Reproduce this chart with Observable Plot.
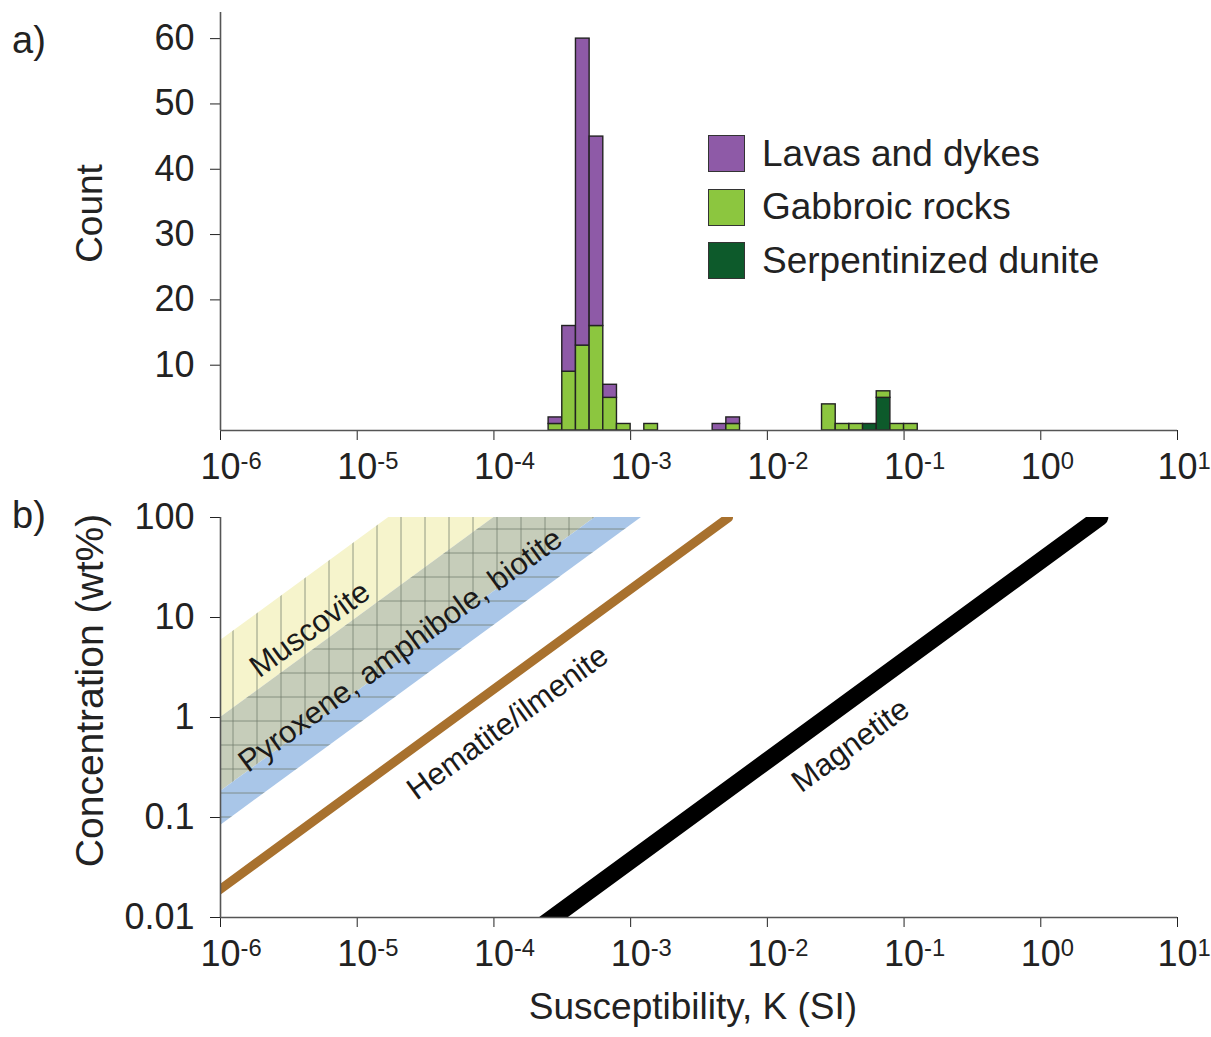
<!DOCTYPE html>
<html><head><meta charset="utf-8">
<script src="https://cdn.jsdelivr.net/npm/d3@7"></script>
<script src="https://cdn.jsdelivr.net/npm/@observablehq/plot@0.6"></script>
<style>
body{margin:0;background:#fff;font-family:"Liberation Sans",Arial,Helvetica,sans-serif;}
#wrap{position:relative;width:1211px;height:1037px;overflow:hidden;}
.panel{position:absolute;left:0;}
.panel svg{overflow:visible;}
.tag{position:absolute;left:12px;font-size:38px;line-height:1;color:#222;}
.legend{position:absolute;left:708px;top:135px;}
.row{display:flex;align-items:center;height:37px;margin-bottom:16.5px;font-size:37px;color:#222;white-space:nowrap;}
.sw{box-sizing:border-box;width:37px;height:37px;border:1.5px solid #333;margin-right:17px;}
</style></head>
<body>
<div id="wrap">
  <div class="panel" id="top" style="top:0"></div>
  <div class="panel" id="bot" style="top:490px"></div>
  <div class="tag" style="top:21px">a)</div>
  <div class="tag" style="top:496px">b)</div>
  <div class="legend" id="legend"></div>
</div>
<script>
// ---------- Panel a) histogram data (bins of 0.1 in log10 K) ----------
const binLo   = [-3.6, -3.5, -3.4, -3.3, -3.2, -3.1, -2.9, -2.4, -2.3, -1.6, -1.5, -1.4, -1.3, -1.2, -1.1, -1.0];
const binWidth = 0.1;
const lavas   = [1, 7, 47, 29, 2, 0, 0, 1, 1, 0, 0, 0, 0, 0, 0, 0];
const gabbro  = [1, 9, 13, 16, 5, 1, 1, 0, 1, 4, 1, 1, 0, 1, 1, 1];
const dunite  = [0, 0, 0, 0, 0, 0, 0, 0, 0, 0, 0, 0, 1, 5, 0, 0];
const groups  = ["Lavas and dykes", "Gabbroic rocks", "Serpentinized dunite"];
const groupColors = ["#8e5aa7", "#8cc63f", "#0d5a2b"];
const stackOrder = ["Serpentinized dunite", "Gabbroic rocks", "Lavas and dykes"];
const countTicks = [10, 20, 30, 40, 50, 60];

// ---------- Panel b) susceptibility vs concentration ----------
const kTicks = [1e-6, 1e-5, 1e-4, 1e-3, 1e-2, 1e-1, 1, 10];
const concTicks = [0.01, 0.1, 1, 10, 100];
const concEnds = [0.001, 100];                 // wt% range of the bands/lines
// bands: K at 100 wt% for left and right edges
const bandNames = ["Muscovite", "Pyroxene, amphibole, biotite", "Blue edge"];
const bandK100lo = [1.7e-5, 1.0e-4, 5.5e-4];
const bandK100hi = [1.0e-4, 5.5e-4, 1.2e-3];
const bandColors = ["#f6f4cc", "#c6cdba", "#a9c6e8"];
// hatched ranges (vertical lines / horizontal lines)
const vHatchK100 = [1.7e-5, 5.5e-4];
const hHatchK100 = [1.0e-4, 1.2e-3];
// single-mineral lines: K at 100 wt%
const lineNames = ["Hematite/ilmenite", "Magnetite"];
const lineK100 = [5.2e-3, 2.7];
const lineColors = ["#a8712e", "#000000"];
const lineWidths = [9, 17];
// annotation anchors (K, wt%)
const annText = ["Muscovite", "Pyroxene, amphibole, biotite", "Hematite/ilmenite", "Magnetite"];
const annK = [4.5e-6, 2.07e-5, 1.26e-4, 0.0406];
const annC = [7.6, 4.7, 0.89, 0.525];

const FONT = '"Liberation Sans", Arial, Helvetica, sans-serif';
const fmtPow = d => "10^" + Math.round(Math.log10(d));

function supify(svg) {
  svg.querySelectorAll("text").forEach(t => {
    const s = t.textContent;
    if (!s.includes("^")) return;
    const [b, e] = s.split("^");
    t.textContent = b;
    const ts = document.createElementNS("http://www.w3.org/2000/svg", "tspan");
    ts.setAttribute("dy", "-0.42em");
    ts.setAttribute("font-size", "0.66em");
    ts.textContent = e;
    t.appendChild(ts);
    // centre the "10" on the tick, exponent hangs to the right
    t.setAttribute("text-anchor", "start");
    t.setAttribute("dx", "-0.556em");
  });
}

// ---- top histogram ----
const rows = [];
binLo.forEach((lo, i) => {
  [["Serpentinized dunite", dunite[i]], ["Gabbroic rocks", gabbro[i]], ["Lavas and dykes", lavas[i]]]
    .forEach(([g, n]) => { if (n > 0) rows.push({lo: 10 ** lo, hi: 10 ** (lo + binWidth), n, g}); });
});

const axisStyle = {stroke: "#555", strokeWidth: 1.6};
const topPlot = Plot.plot({
  width: 1211, height: 490,
  marginLeft: 220, marginRight: 34, marginTop: 12, marginBottom: 60,
  style: {fontFamily: FONT, fontSize: "36px", color: "#222", background: "transparent", overflow: "visible"},
  x: {type: "log", domain: [1e-6, 10], ticks: kTicks, tickFormat: fmtPow, tickSize: 10, tickPadding: 13, label: null},
  y: {domain: [0, 64], ticks: countTicks, tickSize: 10, tickPadding: 16, label: null},
  color: {domain: groups, range: groupColors},
  marks: [
    Plot.rectY(rows, {x1: "lo", x2: "hi", y: "n", fill: "g", order: stackOrder, stroke: "#222", strokeWidth: 1.4}),
    Plot.ruleX([1e-6], axisStyle),
    Plot.ruleY([0], axisStyle),
    Plot.text(["Count"], {text: d => d, frameAnchor: "left", textAnchor: "middle", rotate: -90, dx: -130, dy: -8, fontSize: 37, fill: "#222"})
  ]
});
supify(topPlot);
document.getElementById("top").appendChild(topPlot);

// legend
const leg = document.getElementById("legend");
groups.forEach((g, i) => {
  const r = document.createElement("div"); r.className = "row";
  const s = document.createElement("div"); s.className = "sw"; s.style.background = groupColors[i];
  const t = document.createElement("span"); t.textContent = g;
  r.appendChild(s); r.appendChild(t); leg.appendChild(r);
});

// ---- bottom panel ----
const bandRows = i => concEnds.map(C => ({C, lo: bandK100lo[i] * C / 100, hi: bandK100hi[i] * C / 100}));
const rangeRows = r => concEnds.map(C => ({C, lo: r[0] * C / 100, hi: r[1] * C / 100}));
const lineRows = i => concEnds.map(C => ({C, K: lineK100[i] * C / 100}));
const ann = annText.map((t, i) => ({t, K: annK[i], C: annC[i]}));

const botPlot = Plot.plot({
  width: 1211, height: 547,
  marginLeft: 220, marginRight: 34, marginTop: 27, marginBottom: 120,
  style: {fontFamily: FONT, fontSize: "36px", color: "#222", background: "transparent", overflow: "visible"},
  x: {type: "log", domain: [1e-6, 10], ticks: kTicks, tickFormat: fmtPow, tickSize: 10, tickPadding: 13, label: null},
  y: {type: "log", domain: [0.01, 100], ticks: concTicks, tickFormat: d => String(d), tickSize: 10, tickPadding: 16, label: null},
  marks: [
    ...bandNames.map((n, i) => Plot.areaX(bandRows(i), {y: "C", x1: "lo", x2: "hi", fill: bandColors[i], clip: true})),
    Plot.areaX(rangeRows(vHatchK100), {y: "C", x1: "lo", x2: "hi", fill: "url(#vhatch)", clip: true}),
    Plot.areaX(rangeRows(hHatchK100), {y: "C", x1: "lo", x2: "hi", fill: "url(#hhatch)", clip: true}),
    ...lineNames.map((n, i) => Plot.line(lineRows(i), {x: "K", y: "C", stroke: lineColors[i], strokeWidth: lineWidths[i], clip: true})),
    Plot.text(ann, {x: "K", y: "C", text: "t", rotate: -36, fontSize: 31, fill: "#1a1a1a"}),
    Plot.ruleX([1e-6], axisStyle),
    Plot.ruleY([0.01], axisStyle),
    Plot.text(["Concentration (wt%)"], {text: d => d, frameAnchor: "left", textAnchor: "middle", rotate: -90, dx: -130, dy: -27, fontSize: 39, fill: "#222"}),
    Plot.text(["Susceptibility, K (SI)"], {text: d => d, frameAnchor: "bottom", dx: -6, dy: 101, fontSize: 37, fill: "#222"})
  ]
});
supify(botPlot);
const defs = document.createElementNS("http://www.w3.org/2000/svg", "defs");
defs.innerHTML =
  '<pattern id="vhatch" patternUnits="userSpaceOnUse" width="24" height="24" x="5" y="0">' +
  '<path d="M12,0V24" stroke="#6f7b6b" stroke-width="1" stroke-opacity="0.75"/></pattern>' +
  '<pattern id="hhatch" patternUnits="userSpaceOnUse" width="24" height="24" x="0" y="3">' +
  '<path d="M0,12H24" stroke="#6f7b6b" stroke-width="1" stroke-opacity="0.75"/></pattern>';
botPlot.insertBefore(defs, botPlot.firstChild);
document.getElementById("bot").appendChild(botPlot);
</script>
</body></html>
